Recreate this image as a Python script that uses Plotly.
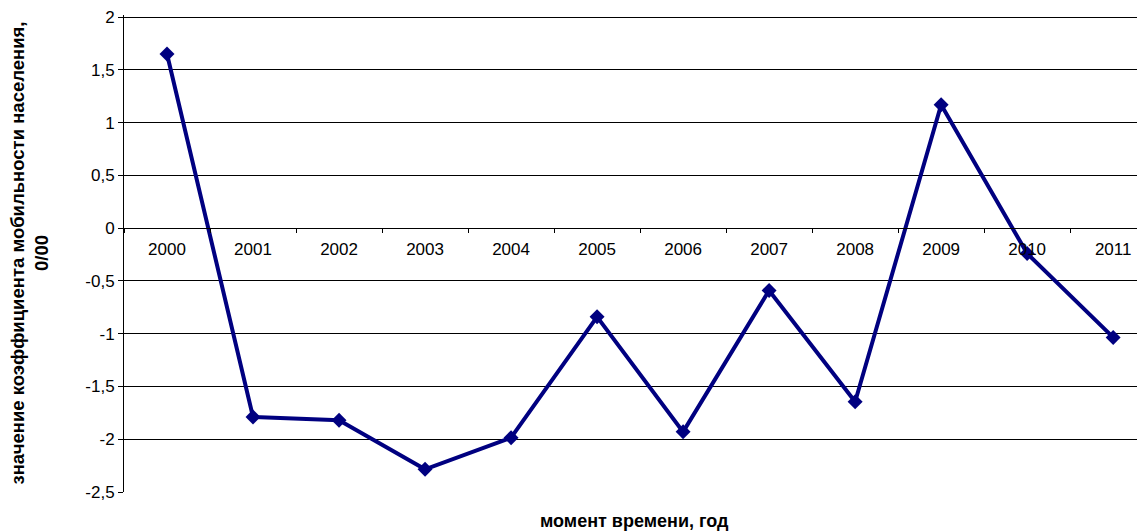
import plotly.graph_objects as go

years = ["2000", "2001", "2002", "2003", "2004", "2005",
         "2006", "2007", "2008", "2009", "2010", "2011"]
values = [1.65, -1.79, -1.82, -2.285, -1.985, -0.84,
          -1.93, -0.59, -1.645, 1.17, -0.24, -1.035]
y_ticks = [2, 1.5, 1, 0.5, 0, -0.5, -1, -1.5, -2, -2.5]
y_tick_text = ["2", "1,5", "1", "0,5", "0", "-0,5", "-1", "-1,5", "-2", "-2,5"]

font_family = "Liberation Sans, Arial, sans-serif"
fs = 17

fig = go.Figure()
fig.add_trace(go.Scatter(
    x=years, y=values, mode="lines+markers",
    line=dict(color="#000080", width=4),
    marker=dict(symbol="diamond", size=11.5, color="#000080"),
    showlegend=False,
))

y_min, y_max = -2.5, 2.02
fig.update_layout(
    width=1137, height=524,
    margin=dict(l=116, r=0, t=7, b=40),
    paper_bgcolor="white", plot_bgcolor="white",
    font=dict(family=font_family, size=fs, color="black"),
    xaxis=dict(
        type="category",
        range=[-0.5, 11.37],
        anchor="free",
        position=(0 - y_min) / (y_max - y_min),
        showline=True, linecolor="black", linewidth=1,
        ticks="outside", ticklen=4, tickcolor="black",
        tickson="boundaries",
        ticklabelstandoff=5,
        showgrid=False,
        tickfont=dict(size=fs, family=font_family),
    ),
    yaxis=dict(
        range=[y_min, y_max],
        tickvals=y_ticks, ticktext=y_tick_text,
        showline=True, linecolor="black", linewidth=1,
        ticks="outside", ticklen=5, tickcolor="black",
        showgrid=True, gridcolor="black", gridwidth=1,
        zeroline=False,
        tickfont=dict(size=fs, family=font_family),
    ),
    annotations=[
        dict(
            text="<b>момент времени, год</b>",
            xref="paper", yref="paper", x=0.5, y=0,
            yshift=-29, showarrow=False, yanchor="middle",
            font=dict(size=18, family=font_family),
        ),
        dict(
            text="<b>значение коэффициента мобильности населения,<br>0/00</b>",
            xref="paper", yref="paper", x=0, y=0.5,
            xshift=-95, showarrow=False, xanchor="center", yanchor="middle",
            textangle=-90,
            font=dict(size=18.5, family=font_family),
        ),
    ],
)

fig.write_html("out.html")
